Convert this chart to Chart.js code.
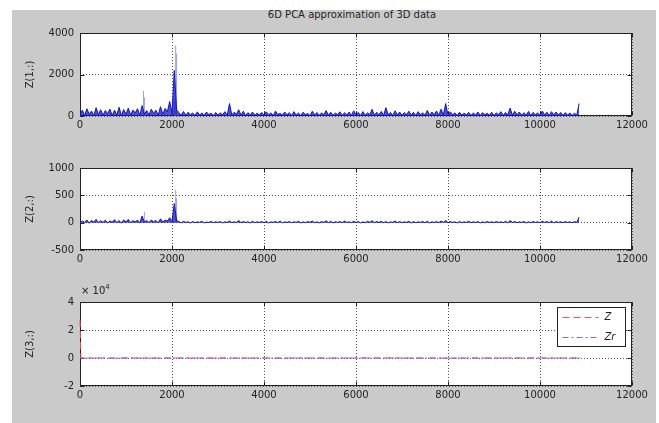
<!DOCTYPE html>
<html><head><meta charset="utf-8">
<script src="https://cdn.jsdelivr.net/npm/chart.js@4.4.1/dist/chart.umd.min.js"></script>
<style>
html,body{margin:0;padding:0;background:#fff;}
#fig{position:relative;width:659px;height:423px;overflow:hidden;}
#bg{position:absolute;left:12px;top:10px;width:644px;height:413px;background:#cacaca;}
canvas{position:absolute;left:0;}
.txt{position:absolute;font-family:"DejaVu Sans";font-size:10px;line-height:12px;color:#222;white-space:nowrap;z-index:5;}
</style></head><body>
<div id="fig">
<div id="bg"></div>
<div class="txt" style="left:0;width:704px;text-align:center;top:9px;">6D PCA approximation of 3D data</div>
<canvas id="c1" width="659" height="117" style="top:21px;width:659px;height:117px;"></canvas>
<canvas id="c2" width="659" height="116" style="top:156px;width:659px;height:116px;"></canvas>
<canvas id="c3" width="659" height="118" style="top:290px;width:659px;height:118px;"></canvas>
<div class="txt" style="left:81px;top:285px;">× 10<sup style="font-size:7px;vertical-align:5px;line-height:0">4</sup></div>
</div>
<script>
// ---- data ----
const sampleStep = 50; // x spacing of the sampled values
const xTicks = [0, 2000, 4000, 6000, 8000, 10000, 12000];

// Row 1: Zr (blue) sampled every 50 points
const zr1 = [
 60,280,30,350,90,240,20,400,70,300,
 40,260,110,330,30,280,60,420,20,310,
 90,380,40,290,150,350,30,500,80,260,
 50,330,120,280,40,450,90,360,200,700,
 150,2200,300,160,40,220,30,180,60,150,
 20,200,50,140,30,190,70,130,20,170,
 40,150,60,210,30,600,50,180,80,300,
 40,230,20,160,60,190,30,140,50,170,
 30,200,60,150,20,240,70,130,40,190,
 60,160,20,210,50,140,30,180,70,120,
 20,230,50,170,30,150,60,260,40,180,
 30,140,70,200,20,160,50,190,30,250,
 60,170,20,210,40,150,70,320,30,180,
 50,220,30,400,60,170,20,250,50,190,
 30,160,70,230,40,180,20,210,60,150,
 40,270,30,190,70,240,20,330,50,600,
 30,200,60,150,20,180,40,130,60,170,
 30,140,50,190,20,160,60,130,40,180,
 20,150,60,210,30,170,50,380,40,230,
 60,190,30,160,50,220,20,170,60,150,
 30,240,50,180,20,210,60,190,40,170,
 20,160,50,140,30,130,40,600
];
// Row 1: Z (light) peaks
const z1PeakX = [1380, 1400, 2050, 2080, 2100];
const z1PeakY = [1200, 900, 700, 3400, 3000];

// Row 2: Zr (blue)
const zr2 = [
 -5,30,5,50,-10,40,10,60,0,35,
 5,45,-5,30,10,55,0,40,-10,50,
 10,60,0,35,15,45,-5,120,10,40,
 0,50,15,40,-5,70,10,45,30,90,
 20,350,40,20,-5,25,5,15,-5,20,
 0,15,5,25,-5,10,5,20,0,15,
 5,20,-5,15,5,30,0,15,5,40,
 0,20,5,15,-5,25,0,15,5,20,
 0,25,-5,15,5,20,0,30,-5,15,
 5,20,0,15,5,25,-5,15,0,20,
 5,30,0,15,-5,20,5,35,0,25,
 -5,15,5,20,0,30,5,15,0,25,
 5,20,-5,15,0,25,5,35,0,20,
 5,25,0,20,-5,15,5,30,0,20,
 0,15,5,25,-5,20,0,15,5,20,
 0,25,-5,15,5,20,0,30,5,40,
 0,20,5,15,-5,20,0,15,5,25,
 0,15,5,20,-5,15,0,20,5,15,
 0,20,5,15,0,25,-5,40,5,20,
 0,15,5,20,-5,15,0,20,5,15,
 0,25,5,20,0,30,-5,20,5,15,
 0,20,5,15,0,20,5,100
];
const z2PeakX = [1400, 2080, 2100];
const z2PeakY = [200, 600, 450];

// Row 3
const z3X = [0, 20, 10870];
const z3Y = [27000, 0, 0];
const zr3X = [0, 10870];
const zr3Y = [0, 0];

// ---- helpers ----
function sampled(vals){ return vals.map((v,i)=>({x:i*sampleStep, y:v})); }
function pairs(xs, ys){ return xs.map((x,i)=>({x, y:ys[i]})); }
function spikes(xs, ys){ const out=[]; xs.forEach((x,i)=>{ out.push({x,y:0},{x,y:ys[i]},{x,y:null}); }); return out; }

const FONT = {family:'DejaVu Sans', size:10};
const TXT = '#222';

const whiteArea = {
  id:'whiteArea',
  beforeDraw(chart){
    const {ctx, chartArea:a} = chart;
    ctx.save(); ctx.fillStyle='#fff'; ctx.fillRect(a.left,a.top,a.right-a.left,a.bottom-a.top); ctx.restore();
  }
};

const matlabFrame = {
  id:'matlabFrame',
  beforeDatasetsDraw(chart){
    const {ctx, chartArea:a, scales:{x,y}} = chart;
    ctx.save();
    ctx.setLineDash([]);
    ctx.strokeStyle='#222'; ctx.lineWidth=1;
    const L=Math.round(a.left)+0.5, T=Math.round(a.top)+0.5, R=Math.round(a.right)-0.5, B=Math.round(a.bottom)-0.5;
    ctx.strokeRect(L,T,R-L,B-T);
    const tl=4;
    ctx.beginPath();
    x.ticks.forEach(t=>{ const p=Math.round(x.getPixelForValue(t.value))+0.5; ctx.moveTo(p,B); ctx.lineTo(p,B-tl); ctx.moveTo(p,T); ctx.lineTo(p,T+tl); });
    y.ticks.forEach(t=>{ const p=Math.round(y.getPixelForValue(t.value))+0.5; ctx.moveTo(L,p); ctx.lineTo(L+tl,p); ctx.moveTo(R,p); ctx.lineTo(R-tl,p); });
    ctx.stroke();
    ctx.restore();
  }
};

const insetLegend = {
  id:'insetLegend',
  afterDraw(chart){
    const {ctx, chartArea:a} = chart;
    const w=68, h=39;
    const lx=Math.round(a.right)-7-w+0.5, ly=Math.round(a.top)+5+0.5;
    ctx.save();
    ctx.fillStyle='#fff'; ctx.fillRect(lx,ly,w,h);
    ctx.strokeStyle='#222'; ctx.lineWidth=1; ctx.setLineDash([]); ctx.strokeRect(lx,ly,w,h);
    chart.data.datasets.forEach((ds,i)=>{
      const yy = ly + 10 + i*20;
      ctx.strokeStyle=ds.borderColor; ctx.setLineDash(ds.borderDash||[]);
      ctx.beginPath(); ctx.moveTo(lx+5,yy); ctx.lineTo(lx+41,yy); ctx.stroke();
      ctx.setLineDash([]);
      ctx.fillStyle=TXT; ctx.font='italic 10px "DejaVu Sans"'; ctx.textBaseline='middle'; ctx.textAlign='left';
      ctx.fillText(ds.label, lx+47, yy);
    });
    ctx.restore();
  }
};

function makeChart(id, datasets, yMin, yMax, yStep, yTitle, yFmt, plugins){
  return new Chart(document.getElementById(id), {
    type:'line',
    data:{datasets},
    options:{
      responsive:false, animation:false, devicePixelRatio:1,
      layout:{padding:{left:22,right:27,top:8,bottom:2}},
      plugins:{legend:{display:false}, tooltip:{enabled:false}},
      elements:{point:{radius:0}, line:{tension:0, borderWidth:1}},
      scales:{
        x:{type:'linear', min:0, max:12000,
           afterBuildTicks(s){ s.ticks = xTicks.map(v=>({value:v})); },
           ticks:{padding:3, color:TXT, font:FONT, maxRotation:0, autoSkip:false, callback:v=>String(v)},
           grid:{color:'#555', drawTicks:false, lineWidth:1},
           border:{display:false, dash:[1,2]},
           afterFit(s){ s.height=20; }},
        y:{type:'linear', min:yMin, max:yMax,
           ticks:{stepSize:yStep, padding:6, color:TXT, font:FONT, callback:yFmt},
           grid:{color:'#555', drawTicks:false, lineWidth:1},
           border:{display:false, dash:[1,2]},
           title:{display:true, text:yTitle, color:TXT, font:FONT, padding:{top:2,bottom:0}},
           afterFit(s){ s.width=58; }}
      }
    },
    plugins:[whiteArea].concat(plugins)
  });
}

const BLUE='#1414c8', LAV='#9c9ce6', BAND='rgba(20,20,190,0.75)';

makeChart('c1', [
  {label:'Zr', data:sampled(zr1), borderColor:BLUE, backgroundColor:BAND, fill:'origin', order:1, spanGaps:false},
  {label:'Z', data:spikes(z1PeakX,z1PeakY), borderColor:LAV, order:2, spanGaps:false}
], 0, 4000, 2000, 'Z(1,:)', v=>String(v), [matlabFrame]);

makeChart('c2', [
  {label:'Zr', data:sampled(zr2), borderColor:BLUE, backgroundColor:BAND, fill:'origin', order:1, spanGaps:false},
  {label:'Z', data:spikes(z2PeakX,z2PeakY), borderColor:LAV, order:2, spanGaps:false}
], -500, 1000, 500, 'Z(2,:)', v=>String(v), [matlabFrame]);

makeChart('c3', [
  {label:'Z', data:pairs(z3X,z3Y), borderColor:'#ff5050', borderDash:[7,4], order:2, clip:false},
  {label:'Zr', data:pairs(zr3X,zr3Y), borderColor:'#7070ff', borderDash:[6,3,2,3], order:1}
], -20000, 40000, 20000, 'Z(3,:)', v=>String(v/10000), [matlabFrame, insetLegend]);
</script>
</body></html>
